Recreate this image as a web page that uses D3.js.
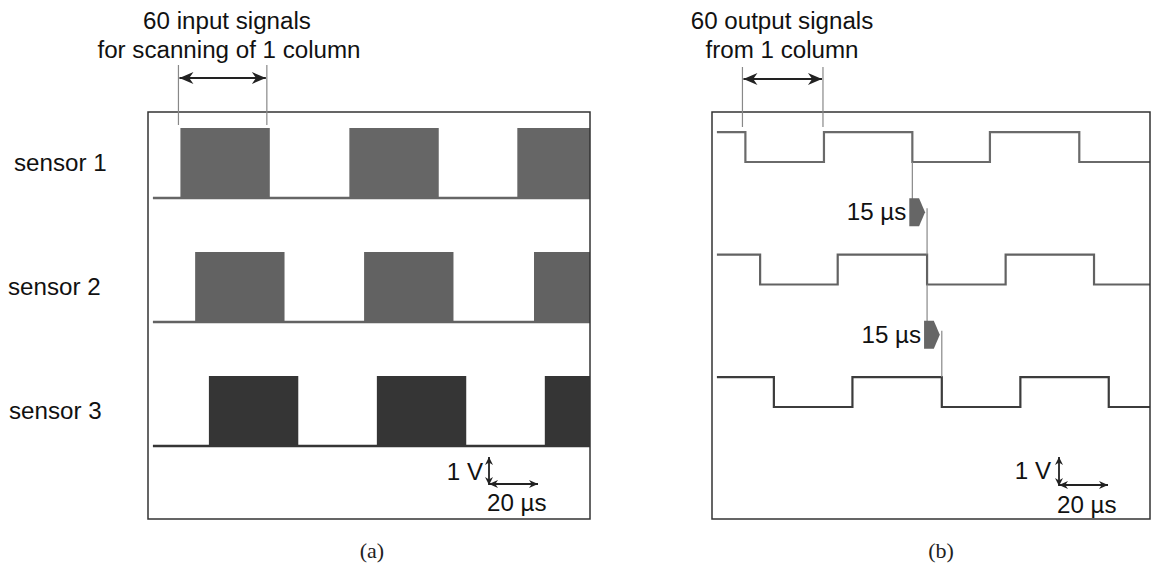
<!DOCTYPE html>
<html>
<head>
<meta charset="utf-8">
<script src="https://cdn.jsdelivr.net/npm/d3@7"></script>
<style>
  body { margin: 0; background: #fff; }
  svg { display: block; }
</style>
</head>
<body>
<script>
// ---- data ----
const sensors = ['sensor 1', 'sensor 2', 'sensor 3'];

// (a) start of each burst of 60 input pulses (µs), one row per sensor
const inputBurstStart = [
  [33, 205, 376],
  [48, 220, 393],
  [62, 233, 404]
];
const inputBurstWidth = 91;   // µs
const inputHigh = 2.5;        // V

// (b) falling / rising edges of the output signals (µs)
const outputFall = [
  [34, 204, 374],
  [49, 219, 389],
  [63, 234, 404]
];
const outputRise = [
  [114, 283],
  [128, 299],
  [143, 314]
];
const outputHigh = 1.07;      // V

const traceStart = 5;         // µs
const columnSpanA = [31, 121];
const columnSpanB = [31, 113];
const delayLabel = '15 µs';
const headerA = ['60 input signals', 'for scanning of 1 column'];
const headerB = ['60 output signals', 'from 1 column'];

// ---- layout ----
const W = 1154, H = 566;
const boxA = { x0: 148, x1: 590, y0: 112, y1: 519 };
const boxB = { x0: 712, x1: 1150, y0: 112, y1: 519 };
const pxPerVolt = 28;

const svg = d3.select('body').append('svg')
  .attr('width', W).attr('height', H)
  .style('font-family', '"Liberation Sans", Arial, sans-serif');

const xA = d3.scaleLinear().domain([0, 450]).range([boxA.x0, boxA.x1]);
const xB = d3.scaleLinear().domain([0, 446]).range([boxB.x0, boxB.x1]);
const rowA = d3.scalePoint().domain(sensors).range([198, 446]);
const rowB = d3.scalePoint().domain(sensors).range([162, 407]);
const volt = d3.scaleLinear().domain([0, 1]).range([0, -pxPerVolt]);

const colorsA = ['#666666', '#626262', '#353535'];
const colorsB = ['#6a6a6a', '#626262', '#3c3c3c'];

// text helper (source font is a touch wider than Arial)
function label(g, x, y, txt, anchor, size) {
  return g.append('text')
    .attr('transform', `translate(${x},${y}) scale(1.05,1)`)
    .attr('text-anchor', anchor || 'start')
    .attr('font-size', size || 23)
    .attr('fill', '#111')
    .text(txt);
}

function arrowHead(g, x, y, angle, len, half) {
  const a = angle * Math.PI / 180;
  const pts = [[0, 0], [-len, -half], [-len * 0.7, 0], [-len, half]]
    .map(([px, py]) => [x + px * Math.cos(a) - py * Math.sin(a), y + px * Math.sin(a) + py * Math.cos(a)]);
  g.append('path').attr('d', 'M' + pts.join('L') + 'Z').attr('fill', '#222');
}

function doubleArrow(g, x1, y1, x2, y2, len, half, sw) {
  const ang = Math.atan2(y2 - y1, x2 - x1) * 180 / Math.PI;
  g.append('line').attr('x1', x1).attr('y1', y1).attr('x2', x2).attr('y2', y2)
    .attr('stroke', '#222').attr('stroke-width', sw || 2);
  arrowHead(g, x2, y2, ang, len, half);
  arrowHead(g, x1, y1, ang + 180, len, half);
}

// ---- panel (a) ----
const gA = svg.append('g');
gA.append('clipPath').attr('id', 'clipA').append('rect')
  .attr('x', boxA.x0).attr('y', boxA.y0).attr('width', boxA.x1 - boxA.x0).attr('height', boxA.y1 - boxA.y0);

const tracesA = gA.append('g').attr('clip-path', 'url(#clipA)');
sensors.forEach((s, i) => {
  const base = rowA(s);
  tracesA.append('line')
    .attr('x1', xA(traceStart)).attr('x2', xA(450))
    .attr('y1', base).attr('y2', base)
    .attr('stroke', colorsA[i]).attr('stroke-width', 2.6);
  tracesA.selectAll(null)
    .data(inputBurstStart[i])
    .join('rect')
    .attr('x', d => xA(d))
    .attr('width', d => xA(Math.min(d + inputBurstWidth, 450)) - xA(d))
    .attr('y', base + volt(inputHigh))
    .attr('height', -volt(inputHigh) + 1)
    .attr('fill', colorsA[i]);
});

gA.append('rect')
  .attr('x', boxA.x0).attr('y', boxA.y0)
  .attr('width', boxA.x1 - boxA.x0).attr('height', boxA.y1 - boxA.y0)
  .attr('fill', 'none').attr('stroke', '#333').attr('stroke-width', 1.5);

const labelX = [14, 8, 9];
sensors.forEach((s, i) => label(gA, labelX[i], rowA(s) - 27, s));

// header + span arrow
label(gA, 227, 29, headerA[0], 'middle');
label(gA, 229, 58, headerA[1], 'middle');
columnSpanA.forEach(t => {
  gA.append('line').attr('x1', xA(t)).attr('x2', xA(t)).attr('y1', 65).attr('y2', 125)
    .attr('stroke', '#888').attr('stroke-width', 1.2);
});
doubleArrow(gA, xA(columnSpanA[0]) + 1, 78, xA(columnSpanA[1]) - 1, 78, 14, 6, 2.2);

// scale bar
doubleArrow(gA, 489, 484, 538, 484, 9, 4, 1.8);
doubleArrow(gA, 489, 485, 489, 457, 8, 4, 1.8);
label(gA, 483, 480, '1 V', 'end');
label(gA, 487, 511, '20 µs', 'start');

// ---- panel (b) ----
const gB = svg.append('g');
gB.append('clipPath').attr('id', 'clipB').append('rect')
  .attr('x', boxB.x0).attr('y', boxB.y0).attr('width', boxB.x1 - boxB.x0).attr('height', boxB.y1 - boxB.y0);

const line = d3.line().x(d => xB(d[0])).y(d => d[1]);
const tracesB = gB.append('g').attr('clip-path', 'url(#clipB)');
sensors.forEach((s, i) => {
  const lo = rowB(s), hi = rowB(s) + volt(outputHigh);
  const edges = outputFall[i].map(t => ({ t, dir: -1 }))
    .concat(outputRise[i].map(t => ({ t, dir: 1 })))
    .sort((a, b) => a.t - b.t);
  const pts = [[traceStart, hi]];
  edges.forEach(e => {
    if (e.dir < 0) { pts.push([e.t, hi], [e.t, lo]); }
    else { pts.push([e.t, lo], [e.t, hi]); }
  });
  pts.push([446, pts[pts.length - 1][1]]);
  tracesB.append('path').attr('d', line(pts))
    .attr('fill', 'none').attr('stroke', colorsB[i]).attr('stroke-width', 2.2);
});

gB.append('rect')
  .attr('x', boxB.x0).attr('y', boxB.y0)
  .attr('width', boxB.x1 - boxB.x0).attr('height', boxB.y1 - boxB.y0)
  .attr('fill', 'none').attr('stroke', '#333').attr('stroke-width', 1.5);

label(gB, 782, 29, headerB[0], 'middle');
label(gB, 782, 58, headerB[1], 'middle');
columnSpanB.forEach(t => {
  gB.append('line').attr('x1', xB(t)).attr('x2', xB(t)).attr('y1', 67).attr('y2', 127)
    .attr('stroke', '#888').attr('stroke-width', 1.2);
});
doubleArrow(gB, xB(columnSpanB[0]) + 1, 79, xB(columnSpanB[1]) - 1, 79, 14, 6, 2.2);

// 15 µs delay markers between consecutive rows
[0, 1].forEach(i => {
  const t0 = outputFall[i][1], t1 = outputFall[i + 1][1];
  const x0 = xB(t0), x1 = xB(t1);
  const yLow0 = rowB(sensors[i]);
  const yHigh1 = rowB(sensors[i + 1]) + volt(outputHigh);
  const yMid = (yLow0 + yHigh1) / 2 + 4;
  gB.append('line').attr('x1', x0).attr('x2', x0).attr('y1', yLow0).attr('y2', yMid + 12)
    .attr('stroke', '#888').attr('stroke-width', 1.2);
  gB.append('line').attr('x1', x1).attr('x2', x1).attr('y1', yMid - 4).attr('y2', yHigh1)
    .attr('stroke', '#888').attr('stroke-width', 1.2);
  const bx0 = x0 - 3, bx1 = x1 - 2, bh = 14;
  gB.append('path')
    .attr('d', `M${bx0},${yMid - bh}L${bx1 - 6},${yMid - bh}L${bx1},${yMid}L${bx1 - 6},${yMid + bh}L${bx0},${yMid + bh}Z`)
    .attr('fill', '#666');
  label(gB, bx0 - 3, yMid + 8, delayLabel, 'end');
});

// scale bar
doubleArrow(gB, 1059, 485, 1108, 485, 9, 4, 1.8);
doubleArrow(gB, 1059, 486, 1059, 457, 8, 4, 1.8);
label(gB, 1051, 479, '1 V', 'end');
label(gB, 1057, 513, '20 µs', 'start');

// panel letters
svg.append('text').attr('x', 372).attr('y', 558).attr('text-anchor', 'middle')
  .attr('font-family', '"Liberation Serif", "Times New Roman", serif')
  .attr('font-size', 22).attr('fill', '#222').text('(a)');
svg.append('text').attr('x', 941).attr('y', 558).attr('text-anchor', 'middle')
  .attr('font-family', '"Liberation Serif", "Times New Roman", serif')
  .attr('font-size', 22).attr('fill', '#222').text('(b)');
</script>
</body>
</html>
